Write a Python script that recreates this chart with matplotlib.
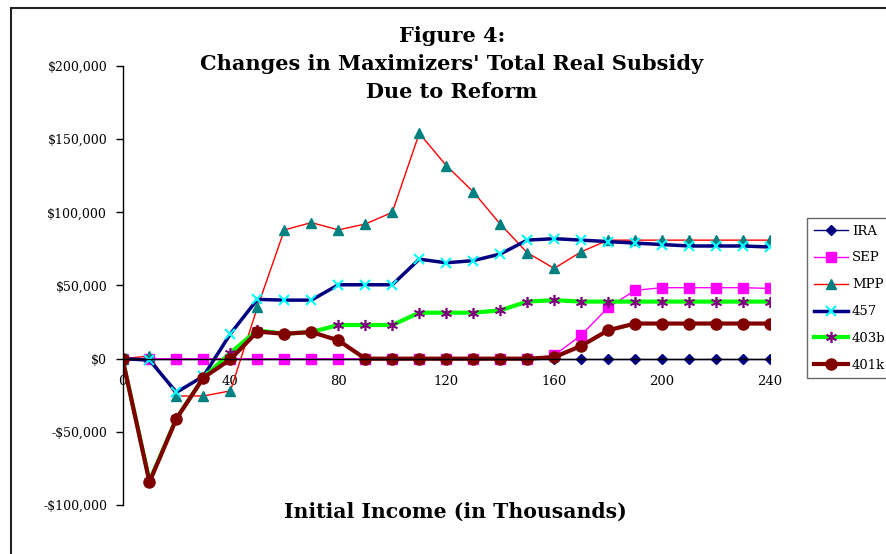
import numpy as np
import matplotlib
matplotlib.use("Agg")
import matplotlib.pyplot as plt
from matplotlib.patches import Rectangle
from matplotlib.ticker import FuncFormatter, MultipleLocator

plt.rcParams['font.family'] = ['DejaVu Serif']

# ===================== data (in $) =====================
income = list(range(0, 250, 10))

ira = [0] * 25
sep = [0, 0, 0, 0, 0, 0, 0, 0, 0, 0, 0, 0, 0, 0, 0, 0,
       2300, 16000, 35000, 46700, 48500, 48500, 48500, 48500, 48000]
mpp = [0, 1800, -25500, -25500, -22000, 35000, 88000, 93000, 88000, 92000,
       100000, 154000, 132000, 114000, 92000, 72400, 61700, 73000, 81000,
       81000, 81000, 81000, 81000, 81000, 81000]
p457 = [0, -1000, -23000, -12000, 17000, 40500, 40000, 40000, 50500, 50500,
        50500, 68000, 65500, 67000, 71500, 81000, 82000, 81000, 80000, 79000,
        78000, 77000, 77000, 77000, 76300]
p403b = [0, -83600, -40800, -13000, 4000, 19400, 17000, 18200, 23000, 23000,
         23000, 31400, 31400, 31400, 33000, 39000, 40000, 39000, 39000, 39000,
         39000, 39000, 39000, 39000, 39000]
p401k = [0, -84300, -41000, -13000, -500, 18500, 17000, 18200, 12500, 0,
         0, 0, 0, 0, 0, 0, 1000, 8700, 19400, 24000,
         24000, 24000, 24000, 24000, 24000]

# ===================== figure =====================
fig = plt.figure(figsize=(8.86, 5.54), dpi=100)
ax = fig.add_axes([122.5 / 886, 49 / 554, 647.5 / 886, 439 / 554])

ax.plot(income, ira, color='#000080', lw=1, marker='D', ms=5,
        mfc='#000080', mec='#000080', label='IRA')
ax.plot(income, sep, color='#FF00FF', lw=1, marker='s', ms=7,
        mfc='#FF00FF', mec='#FF00FF', label='SEP')
ax.plot(income, mpp, color='#FF0000', lw=1, marker='^', ms=7.5,
        mfc='#008080', mec='#008080', label='MPP')
ax.plot(income, p457, color='#000080', lw=2.5, marker='x', ms=7,
        mec='#00FFFF', mew=1.5, label='457')
ax.plot(income, p403b, color='#00FF00', lw=3, marker=(6, 2, 0), ms=8,
        mec='#800080', mew=1.2, label='403b')
ax.plot(income, p401k, color='#800000', lw=3, marker='o', ms=8,
        mfc='#800000', mec='#800000', label='401k')

ax.set_xlim(0, 240)
ax.set_ylim(-100000, 200000)
ax.xaxis.set_major_locator(MultipleLocator(40))
ax.yaxis.set_major_locator(MultipleLocator(50000))


def money(v, pos):
    v = int(round(v))
    if v < 0:
        return '-${:,}'.format(-v)
    return '${:,}'.format(v)


ax.yaxis.set_major_formatter(FuncFormatter(money))

for s in ['top', 'right']:
    ax.spines[s].set_visible(False)
ax.spines['bottom'].set_position(('data', 0))
ax.spines['bottom'].set_linewidth(1)
ax.spines['left'].set_linewidth(1)
ax.tick_params(axis='y', direction='out', length=5, width=1, pad=6,
               labelsize=9)
ax.tick_params(axis='x', length=0, pad=12, labelsize=9.5)

# title and axis label
fig.text(452 / 886, 1 - 64 / 554,
         "Figure 4:\nChanges in Maximizers' Total Real Subsidy\nDue to Reform",
         ha='center', va='center', fontsize=15, fontweight='bold',
         linespacing=1.48)
fig.text(455 / 886, 1 - 512 / 554, "Initial Income (in Thousands)",
         ha='center', va='center', fontsize=14.7, fontweight='bold')

# legend sits at the right edge, partly outside the picture as in the original
leg = ax.legend(loc='upper left', bbox_to_anchor=(807 / 886, 1 - 218 / 554),
                bbox_transform=fig.transFigure, frameon=True, fancybox=False,
                edgecolor='#444444', fontsize=9.5, labelspacing=1.05,
                handlelength=2.6, borderaxespad=0, borderpad=0.5,
                handletextpad=0.3)
leg.get_frame().set_linewidth(1)

# outer frame (runs off the right and bottom of the picture)
fig.patches.append(Rectangle((11 / 886, -0.1), 1.2, 1.1 - 8 / 554,
                             transform=fig.transFigure, fill=False,
                             edgecolor='#222222', lw=1.5))

fig.savefig('out.png', dpi=100)
